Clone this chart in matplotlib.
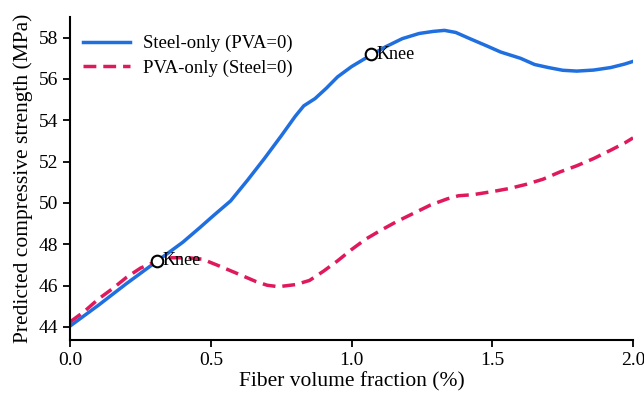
import matplotlib
matplotlib.use("Agg")
import matplotlib.pyplot as plt

# Curva Steel-only (PVA=0)
x_acero = [0.0, 0.1, 0.2, 0.31, 0.4, 0.46, 0.51, 0.57, 0.63, 0.69, 0.75, 0.8, 0.83, 0.87, 0.91,
           0.95, 1.0, 1.07, 1.12, 1.18, 1.24, 1.29, 1.33, 1.37, 1.42, 1.48, 1.53,
           1.6, 1.65, 1.7, 1.75, 1.8, 1.86, 1.92, 1.97, 2.0]
y_acero = [44.05, 45.05, 46.1, 47.2, 48.1, 48.8, 49.4, 50.1, 51.1, 52.15, 53.25, 54.2, 54.7, 55.05, 55.55,
           56.1, 56.6, 57.17, 57.55, 57.95, 58.2, 58.3, 58.35, 58.25, 57.95, 57.6, 57.3,
           57.0, 56.7, 56.55, 56.42, 56.38, 56.43, 56.55, 56.72, 56.85]

# Curva PVA-only (Steel=0)
x_pva = [0.0, 0.05, 0.1, 0.15, 0.2, 0.25, 0.31, 0.36, 0.42, 0.47, 0.53, 0.6, 0.66, 0.7,
         0.74, 0.8, 0.85, 0.9, 0.95, 1.0, 1.05, 1.1, 1.16, 1.22, 1.28, 1.34, 1.38, 1.43,
         1.5, 1.56, 1.62, 1.68, 1.74, 1.8, 1.86, 1.92, 1.97, 2.0]
y_pva = [44.25, 44.75, 45.35, 45.85, 46.4, 46.85, 47.2, 47.35, 47.35, 47.28, 46.95, 46.55, 46.2, 46.02,
         45.95, 46.05, 46.25, 46.7, 47.2, 47.75, 48.25, 48.65, 49.1, 49.5, 49.9, 50.2, 50.35, 50.4,
         50.55, 50.7, 50.9, 51.15, 51.5, 51.8, 52.15, 52.55, 52.9, 53.15]

# Puntos de rodilla (knee)
x_knee = [1.07, 0.31]
y_knee = [57.2, 47.2]

plt.rcParams['font.family'] = ['Liberation Serif', 'DejaVu Serif']

fig = plt.figure(figsize=(6.44, 3.94), dpi=100)
ax = fig.add_axes([0.109, 0.137, 0.874, 0.82])

ax.plot(x_acero, y_acero, color='#1f6fe0', linewidth=2.5, label='Steel-only (PVA=0)')
ax.plot(x_pva, y_pva, color='#e0195c', linewidth=2.5, linestyle=(0, (3.7, 2.0)), label='PVA-only (Steel=0)')

for xk, yk in zip(x_knee, y_knee):
    ax.scatter(xk, yk, s=70, facecolor='white', edgecolor='black', linewidth=1.5, zorder=5)
    ax.text(xk + 0.017, yk, 'Knee', fontsize=13, va='center', ha='left', zorder=6)

ax.set_xlim(0, 2.0)
ax.set_ylim(43.37, 59.0)
ax.set_xticks([0.0, 0.5, 1.0, 1.5, 2.0])
ax.set_yticks([44, 46, 48, 50, 52, 54, 56, 58])
ax.set_xlabel('Fiber volume fraction (%)', fontsize=15.5, labelpad=2)
ax.set_ylabel('Predicted compressive strength (MPa)', fontsize=15.5, labelpad=4)
ax.tick_params(labelsize=14, width=1.3, length=5)

ax.spines['top'].set_visible(False)
ax.spines['right'].set_visible(False)
ax.spines['left'].set_linewidth(1.5)
ax.spines['bottom'].set_linewidth(1.5)

ax.legend(loc='upper left', bbox_to_anchor=(0.0, 0.985), frameon=False, fontsize=13.5,
          handlelength=2.5, handletextpad=0.7, borderaxespad=0.3, labelspacing=0.4)

fig.savefig('out.png', dpi=100)
